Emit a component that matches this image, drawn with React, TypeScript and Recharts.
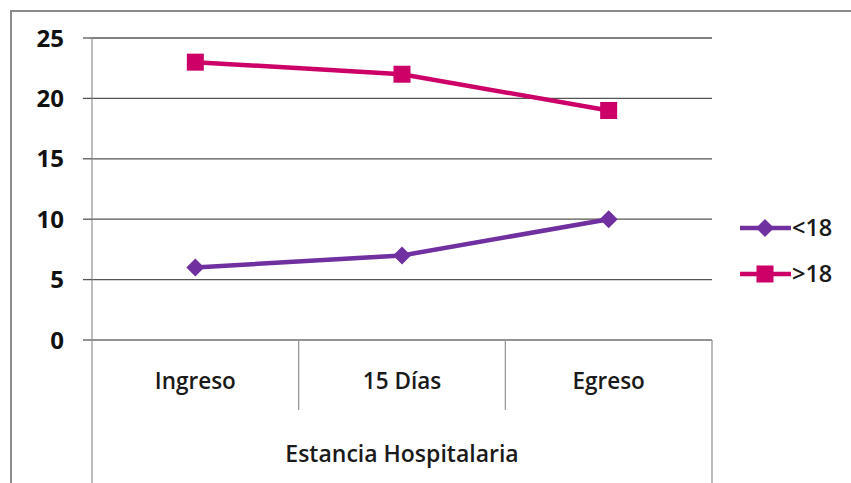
import React from "react";
import { LineChart, Line, XAxis, YAxis, CartesianGrid } from "recharts";

const categories = ["Ingreso", "15 Días", "Egreso"];
const menores = [6, 7, 10];
const mayores = [23, 22, 19];
const yTicks = [0, 5, 10, 15, 20, 25];
const seriesNames = ["<18", ">18"];

const PURPLE = "#7030a0";
const PINK = "#cc0066";
const FONT = "'Open Sans', 'Noto Sans', sans-serif";

const data = categories.map((c, i) => ({ cat: c, a: menores[i], b: mayores[i] }));

const W = 851;
const H = 483;
const M = { top: 38, right: 139, bottom: 0, left: 0 };
const Y_W = 92;
const X_H = 143;
const HALF_BAND = (W - Y_W - M.right) / categories.length / 2;

function Diamond(props: any) {
  const { cx, cy, fill } = props;
  if (cx == null || cy == null) return null;
  const r = 9;
  return <path d={`M${cx},${cy - r}L${cx + r},${cy}L${cx},${cy + r}L${cx - r},${cy}Z`} fill={fill} />;
}

function Square(props: any) {
  const { cx, cy, fill } = props;
  if (cx == null || cy == null) return null;
  const s = 8.5;
  return <rect x={cx - s} y={cy - s} width={s * 2} height={s * 2} fill={fill} />;
}

function CatTick(props: any) {
  const { x, y, payload, index } = props;
  const last = index === categories.length - 1;
  return (
    <g>
      <line x1={x - HALF_BAND} x2={x - HALF_BAND} y1={y} y2={index === 0 ? H : 410} stroke="#999" strokeWidth={1.3} />
      {last && <line x1={x + HALF_BAND} x2={x + HALF_BAND} y1={y} y2={H} stroke="#999" strokeWidth={1.3} />}
      <text x={x} y={y + 49} textAnchor="middle" fontFamily={FONT} fontSize={22.5} fontWeight={600} fill="#1a1a1a">
        {payload.value}
      </text>
    </g>
  );
}

function LegendBox() {
  const items = [
    { name: seriesNames[0], color: PURPLE, shape: "d" },
    { name: seriesNames[1], color: PINK, shape: "s" },
  ];
  return (
    <svg width={111} height={80} style={{ position: "absolute", left: 740, top: 212 }}>
      {items.map((it, i) => {
        const cy = 16 + i * 46;
        return (
          <g key={it.name}>
            <line x1={0} x2={51} y1={cy} y2={cy} stroke={it.color} strokeWidth={4.5} />
            {it.shape === "d" ? <Diamond cx={25} cy={cy} fill={it.color} /> : <Square cx={25} cy={cy} fill={it.color} />}
            <text x={52} y={cy + 8} fontFamily={FONT} fontSize={23.5} fontWeight={600} fill="#1a1a1a">
              {it.name}
            </text>
          </g>
        );
      })}
    </svg>
  );
}

export default function App() {
  return (
    <div style={{ position: "relative", width: W, height: H, background: "#fff", overflow: "hidden" }}>
      <style>{`body{margin:0}`}</style>
      <div
        style={{
          position: "absolute",
          left: 10,
          top: 10,
          width: W,
          height: H,
          borderTop: "2px solid #8c8c8c",
          borderLeft: "2px solid #8c8c8c",
        }}
      />
      <LineChart width={W} height={H} data={data} margin={M}>
        <CartesianGrid horizontal vertical={false} stroke="#555" strokeWidth={1.3} />
        <XAxis
          dataKey="cat"
          height={X_H}
          tickSize={0}
          tickMargin={0}
          padding={{ left: HALF_BAND, right: HALF_BAND }}
          axisLine={{ stroke: "#999", strokeWidth: 1.3 }}
          tick={<CatTick />}
          interval={0}
          label={{
            value: "Estancia Hospitalaria",
            position: "insideBottom",
            offset: 21,
            style: { fontFamily: FONT, fontSize: 23, fontWeight: 600, fill: "#1a1a1a" },
          }}
        />
        <YAxis
          width={Y_W}
          domain={[0, 25]}
          ticks={yTicks}
          tickSize={9}
          tickMargin={19}
          axisLine={{ stroke: "#999", strokeWidth: 1.3 }}
          tickLine={{ stroke: "#555", strokeWidth: 1.3 }}
          tick={{ fontFamily: FONT, fontSize: 24, fontWeight: 700, fill: "#111" }}
        />
        <Line
          dataKey="a"
          name={seriesNames[0]}
          stroke={PURPLE}
          strokeWidth={4.5}
          dot={<Diamond fill={PURPLE} />}
          activeDot={false}
          isAnimationActive={false}
        />
        <Line
          dataKey="b"
          name={seriesNames[1]}
          stroke={PINK}
          strokeWidth={4.5}
          dot={<Square fill={PINK} />}
          activeDot={false}
          isAnimationActive={false}
        />
      </LineChart>
      <LegendBox />
    </div>
  );
}
